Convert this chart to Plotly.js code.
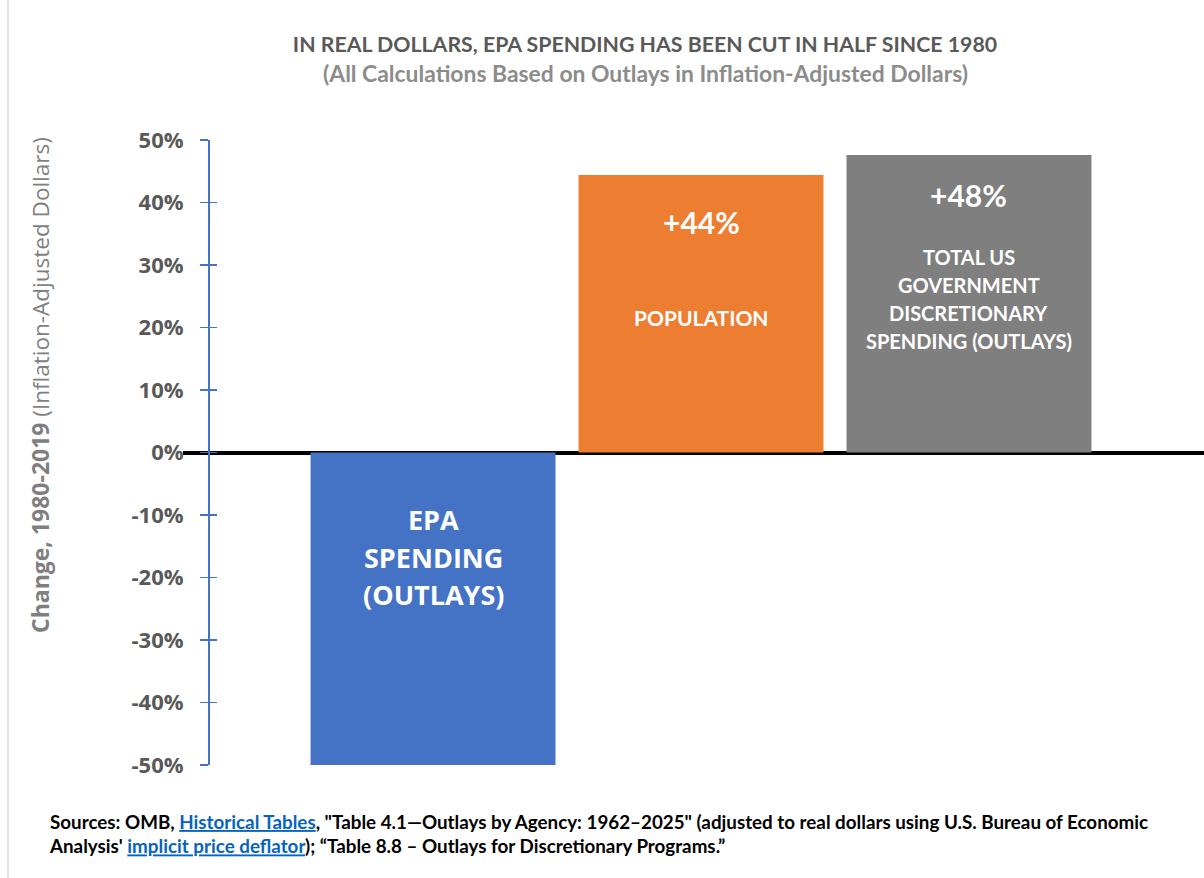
<!DOCTYPE html>
<html>
<head>
<meta charset="utf-8">
<script src="https://cdn.plot.ly/plotly-3.0.1.min.js"></script>
<style>html,body{margin:0;padding:0;background:#fff;}#chart{width:1204px;height:878px;}</style>
</head>
<body>
<div id="chart"></div>
<script>
// ---- data ----
const categories = ['EPA Spending (Outlays)', 'Population', 'Total US Government Discretionary Spending (Outlays)'];
const values = [-50, 44.4, 47.6];
const valueLabels = ['', '+44%', '+48%'];
const nameLines = [
  ['EPA', 'SPENDING', '(OUTLAYS)'],
  ['POPULATION'],
  ['TOTAL US', 'GOVERNMENT', 'DISCRETIONARY', 'SPENDING (OUTLAYS)']
];
const tickValues = [-50, -40, -30, -20, -10, 0, 10, 20, 30, 40, 50];
const tickLabels = ['-50%', '-40%', '-30%', '-20%', '-10%', '0%', '10%', '20%', '30%', '40%', '50%'];

// ---- styles / placement (pixels) ----
const barColors = ['#4472C4', '#ED7D31', '#7F7F7F'];
const valueLabelPx = [null, 222, 195];
const nameCenterPx = [557, 317, 299];
const nameSpacingPx = [37.5, 0, 28];
const nameFonts = [
  {family: 'Open Sans, sans-serif', size: 27, color: '#ffffff', weight: 'bold'},
  {family: 'Lato, sans-serif', size: 21, color: '#ffffff', weight: 'bold'},
  {family: 'Lato, sans-serif', size: 20, color: '#ffffff', weight: 'bold'}
];

const W = 1204, H = 878;
const plotLeft = 183, plotTop = 140, plotBottom = 765;
const yMin = -50, yMax = 50;
const pxX = p => p / W;                                        // paper x
const pxY = p => (plotBottom - p) / (plotBottom - plotTop);    // paper y
const pxData = p => yMax - (p - plotTop) * (yMax - yMin) / (plotBottom - plotTop); // data y

const trace = {
  type: 'bar',
  x: categories,
  y: values,
  marker: {color: barColors},
  width: 0.914,
  hoverinfo: 'skip',
  showlegend: false
};
const ghost = {type: 'scatter', x: [categories[0]], y: [0], yaxis: 'y2', mode: 'markers', marker: {opacity: 0}, hoverinfo: 'skip', showlegend: false};

const annotations = [];
categories.forEach((c, i) => {
  if (valueLabels[i]) {
    annotations.push({x: c, y: pxData(valueLabelPx[i]), xref: 'x', yref: 'y', xanchor: 'center', yanchor: 'middle',
      text: '<b>' + valueLabels[i] + '</b>', showarrow: false,
      font: {family: 'Lato, sans-serif', size: 30, color: '#ffffff', weight: 'bold'}});
  }
  const lines = nameLines[i];
  const n = lines.length;
  lines.forEach((ln, k) => {
    const py = nameCenterPx[i] + (k - (n - 1) / 2) * nameSpacingPx[i];
    annotations.push({x: c, y: pxData(py), xref: 'x', yref: 'y', xanchor: 'center', yanchor: 'middle',
      text: '<b>' + ln + '</b>', showarrow: false, font: nameFonts[i]});
  });
});
annotations.push({
  x: pxX(40), y: pxY(385), xref: 'paper', yref: 'paper', xanchor: 'center', yanchor: 'middle', textangle: -90, showarrow: false,
  text: '<b>Change, 1980-2019</b><span style="font-size:22.5px"> (Inflation-Adjusted Dollars)</span>',
  font: {family: 'Open Sans, sans-serif', size: 23, color: '#7F7F7F'}
});
annotations.push({
  x: pxX(47), y: pxY(833), xref: 'paper', yref: 'paper', xanchor: 'left', yanchor: 'middle', align: 'left', showarrow: false,
  text: '<b>Sources: OMB, <span style="color:#0563C1;text-decoration:underline">Historical Tables</span>, "Table 4.1\u2014Outlays by Agency: 1962\u20132025" (adjusted to real dollars using U.S. Bureau of Economic<br>Analysis\' <span style="color:#0563C1;text-decoration:underline">implicit price deflator</span>); \u201cTable 8.8 \u2013 Outlays for Discretionary Programs.\u201d</b>',
  font: {family: 'Lato, sans-serif', size: 18.8, color: '#000000'}
});
annotations.push({
  x: pxX(645), y: pxY(73), xref: 'paper', yref: 'paper', xanchor: 'center', yanchor: 'middle', showarrow: false,
  text: '<b>(All Calculations Based on Outlays in Inflation-Adjusted Dollars)</b>',
  font: {family: 'Lato, sans-serif', size: 22.9, color: '#8C8C8C'}
});

const layout = {
  width: W, height: H,
  margin: {l: 0, r: 0, t: plotTop, b: H - plotBottom, pad: 0},
  paper_bgcolor: '#ffffff', plot_bgcolor: '#ffffff',
  title: {
    text: '<b>IN REAL DOLLARS, EPA SPENDING HAS BEEN CUT IN HALF SINCE 1980</b>',
    x: 645 / W, xref: 'container', xanchor: 'center',
    y: 1 - 45 / H, yref: 'container', yanchor: 'middle',
    font: {family: 'Lato, sans-serif', size: 21.3, color: '#595959'}
  },
  xaxis: {
    domain: [plotLeft / W, 1],
    type: 'category',
    range: [-0.933, 2.877],
    showticklabels: false, ticks: '', showline: false, showgrid: false, zeroline: false
  },
  yaxis: {
    anchor: 'free', position: 208 / W,
    range: [yMin, yMax],
    tickvals: tickValues, ticktext: tickLabels,
    ticks: 'outside', ticklen: 8, tickwidth: 1.5, tickcolor: '#4472C4',
    showline: true, linecolor: '#4472C4', linewidth: 1.5,
    showgrid: false,
    zeroline: true, zerolinecolor: '#000000', zerolinewidth: 4,
    ticklabelstandoff: 12,
    tickfont: {family: 'Open Sans, sans-serif', size: 22, color: '#595959', weight: 'bold'}
  },
  yaxis2: {
    overlaying: 'y', anchor: 'free', position: 208 / W,
    range: [yMin, yMax],
    tickvals: tickValues,
    ticks: 'inside', ticklen: 8, tickwidth: 1.5, tickcolor: '#4472C4',
    showticklabels: false, showline: false, showgrid: false, zeroline: false
  },
  shapes: [
    {type: 'line', xref: 'paper', yref: 'paper', x0: pxX(8), x1: pxX(8), y0: pxY(H), y1: pxY(0),
     line: {color: '#D9D9D9', width: 1.5}}
  ],
  annotations: annotations,
  showlegend: false
};

Plotly.newPlot('chart', [trace, ghost], layout, {displayModeBar: false, staticPlot: true});
</script>
</body>
</html>
